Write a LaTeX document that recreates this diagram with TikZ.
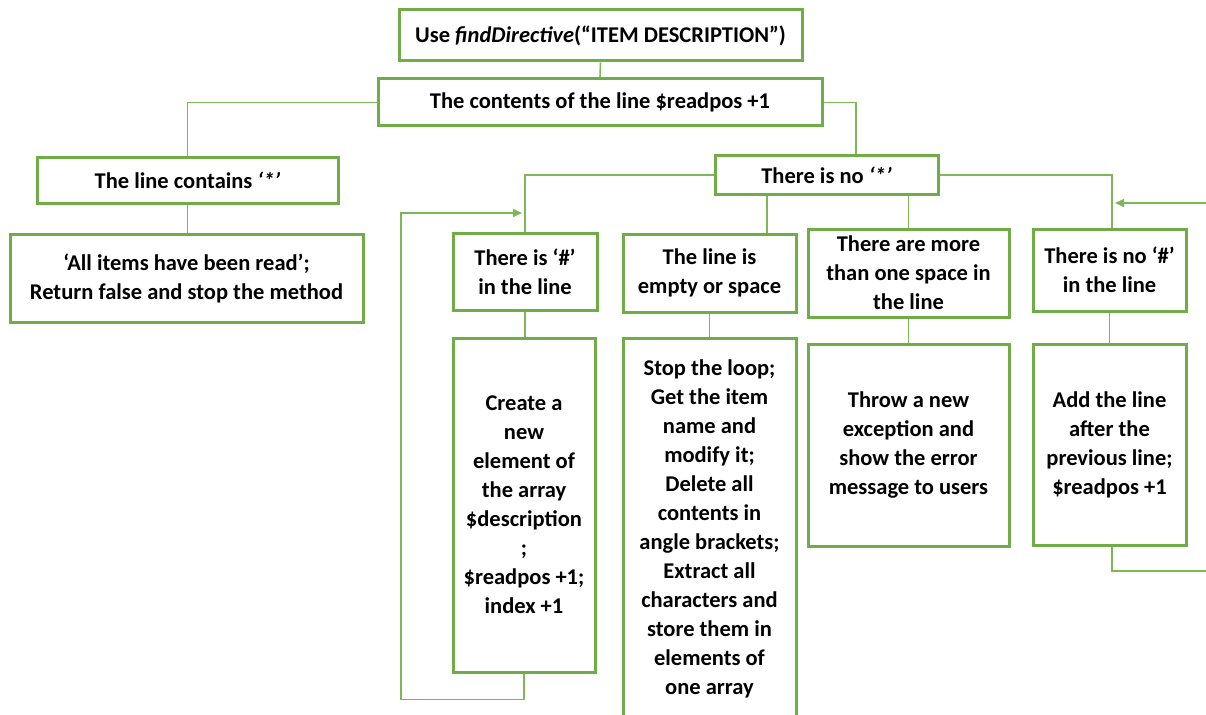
\documentclass[tikz,border=0pt]{standalone}
\usepackage{fontspec}
\setmainfont{Carlito}
\usetikzlibrary{arrows.meta}
\definecolor{boxgreen}{HTML}{70AD47}
\definecolor{linkgreen}{HTML}{7DB858}
\tikzset{
  box/.style={draw=boxgreen, line width=3pt, fill=white, inner sep=0pt, align=center,
    font=\fontsize{22.5}{29}\selectfont\bfseries},
  link/.style={draw=linkgreen, line width=1.6pt},
  linkarrow/.style={link, -{Triangle[length=9pt,width=8pt]}},
}
\begin{document}
\begin{tikzpicture}[x=1pt,y=-1pt]
\useasboundingbox (0,0) rectangle (1206,714);
\clip (0,0) rectangle (1206,714);

% top of the procedure
\node[box, minimum width=403, minimum height=51] (top) at (600.5,35.5)
  {Use \textit{findDirective}(“ITEM DESCRIPTION”)};
\node[box, minimum width=444, minimum height=47] (cont) at (600,102.5)
  {The contents of the line \$readpos +1};

% left branch
\node[box, minimum width=301, minimum height=45] (star) at (187.5,180.5)
  {The line contains \textit{‘*’}};
\node[box, minimum width=353, minimum height=88] (allread) at (186.5,278)
  {‘All items have been read’;\\Return false and stop the method};

% right branch
\node[box, minimum width=223, minimum height=38] (nostar) at (826.5,175)
  {There is no \textit{‘*’}};

\node[box, minimum width=144, minimum height=77] (hash) at (525,271.5)
  {There is ‘\#’\\in the line};
\node[box, minimum width=142, minimum height=334] (create) at (524,505)
  {Create a\\new\\element of\\the array\\\$description\\;\\\$readpos +1;\\index +1};

\node[box, minimum width=173, minimum height=78] (empty) at (709.5,273)
  {The line is\\empty or space};
\node[box, minimum width=173, minimum height=382] (stop) at (709.5,529)
  {Stop the loop;\\Get the item\\name and\\modify it;\\Delete all\\contents in\\angle brackets;\\Extract all\\characters and\\store them in\\elements of\\one array};

\node[box, minimum width=201, minimum height=88] (more) at (908.5,273)
  {There are more\\than one space in\\the line};
\node[box, minimum width=201, minimum height=202] (throw) at (908.5,445)
  {Throw a new\\exception and\\show the error\\message to users};

\node[box, minimum width=153, minimum height=82] (nohash) at (1109.5,270)
  {There is no ‘\#’\\in the line};
\node[box, minimum width=153, minimum height=201] (add) at (1109.5,445)
  {Add the line\\after the\\previous line;\\\$readpos +1};

% loose ends at the right margin and the loop entry point
\coordinate (rin) at (1206,203);
\coordinate (rout) at (1206,571);
\coordinate (loopin) at (522,213);

% connectors
\draw[link] (top.south) -- (cont.north);
\draw[link] (cont.west) -| (star.north);
\draw[link] (cont.east) -| ([xshift=29.5pt]nostar.north);
\draw[link] (star.south) -- (star.south |- allread.north);

\draw[link] (nostar.west) -| (hash.north);
\draw[link] ([xshift=-59.5pt]nostar.south) -- ([xshift=-59.5pt]nostar.south |- empty.north);
\draw[link] ([xshift=82pt]nostar.south) -- ([xshift=82pt]nostar.south |- more.north);
\draw[link] (nostar.east) -| ([xshift=2.5pt]nohash.north);

\draw[link] (hash.south) -- (hash.south |- create.north);
\draw[link] (empty.south) -- (stop.north);
\draw[link] (more.south) -- (throw.north);
\draw[link] (nohash.south) -- (add.north);

% loop back from the array element box
\draw[linkarrow] (create.south) -- ++(0,26) -| (401,213) -- (loopin);
% return path on the right
\draw[linkarrow] (rin) -- ([xshift=5.5pt]nohash.north |- rin);
\draw[link] ([xshift=2.5pt]add.south) |- (rout);
\end{tikzpicture}
\end{document}
